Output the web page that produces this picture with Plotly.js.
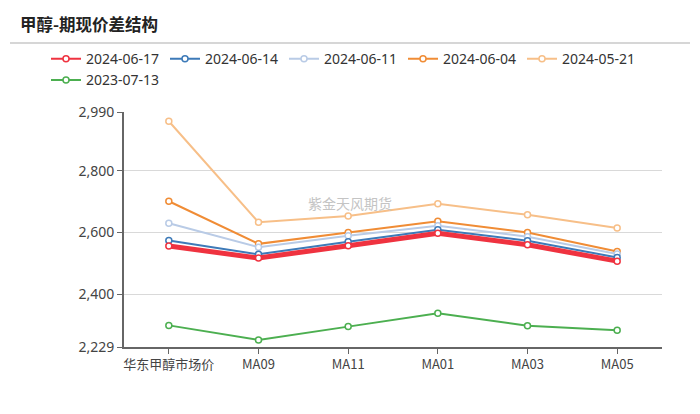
<!DOCTYPE html>
<html><head><meta charset="utf-8">
<script src="https://cdn.plot.ly/plotly-3.0.1.min.js"></script>
<style>html,body{margin:0;padding:0;background:#fff}#chart{width:700px;height:414px}</style>
</head><body><div id="chart"></div>
<script>
const categories = ['华东甲醇市场价','MA09','MA11','MA01','MA03','MA05'];
const seriesNames = ['2024-06-17','2024-06-14','2024-06-11','2024-06-04','2024-05-21','2023-07-13'];
const s20240617 = [2556, 2517, 2557, 2597, 2560, 2507];
const s20240614 = [2574, 2529, 2570, 2609, 2573, 2519];
const s20240611 = [2630, 2552, 2589, 2622, 2586, 2530];
const s20240604 = [2701, 2563, 2600, 2636, 2600, 2538];
const s20240521 = [2960, 2633, 2653, 2693, 2657, 2614];
const s20230713 = [2299, 2252, 2295, 2338, 2298, 2283];
const yTicks = [2229, 2400, 2600, 2800, 2990];
const yTickText = ['2,229','2,400','2,600','2,800','2,990'];

const seriesValues = [s20240617, s20240614, s20240611, s20240604, s20240521, s20230713];
const colors = ['#ef3340','#3d7ab8','#b9cbe6','#f08c35','#f7bf88','#4caf50'];
const widths = [5, 2, 2, 2, 2, 2];

const traces = [];
for (let i = seriesNames.length - 1; i >= 0; i--) {
  if (widths[i] > 2) {
    traces.push({
      type: 'scatter', mode: 'lines', name: seriesNames[i], showlegend: false,
      x: categories, y: seriesValues[i],
      line: {color: colors[i], width: widths[i]}, hoverinfo: 'skip'
    });
  }
  traces.push({
    type: 'scatter', mode: 'lines+markers', name: seriesNames[i],
    x: categories, y: seriesValues[i],
    line: {color: colors[i], width: 2},
    marker: {symbol: 'circle', size: 6, color: '#fff', line: {color: colors[i], width: 1.5}},
    hoverinfo: 'x+y+name'
  });
}

const layout = {
  width: 700, height: 414,
  margin: {l: 124, r: 38, t: 112, b: 67},
  paper_bgcolor: '#fff', plot_bgcolor: '#fff',
  font: {family: '"Noto Sans CJK SC", "Noto Sans", sans-serif', color: '#444', size: 13},
  title: {text: '<b>甲醇-期现价差结构</b>', x: 20/700, xanchor: 'left', y: 1 - 25/414, yanchor: 'middle',
          font: {size: 16.5, color: '#222', family: '"Noto Sans CJK SC", sans-serif'}},
  showlegend: true,
  legend: {orientation: 'h', x: (46-124)/538, xanchor: 'left', y: 1.293, yanchor: 'top',
           bgcolor: 'rgba(0,0,0,0)',
           traceorder: 'reversed', entrywidth: 74, entrywidthmode: 'pixels',
           font: {size: 14, color: '#333', family: '"Noto Sans", "Open Sans", sans-serif'},
           itemclick: false, tracegroupgap: 0},
  xaxis: {type: 'category', range: [-0.5, 5.5], showgrid: false, zeroline: false,
          showline: true, linecolor: '#666', linewidth: 1.5, ticks: 'outside', ticklen: 5,
          tickcolor: '#666', tickfont: {size: 13, color: '#444'}, fixedrange: true},
  yaxis: {range: [2229, 2990], tickmode: 'array', tickvals: yTicks, ticktext: yTickText,
          showgrid: true, gridcolor: '#d9d9d9', gridwidth: 1, zeroline: false,
          showline: true, linecolor: '#666', linewidth: 2, ticks: 'outside', ticklen: 5,
          tickcolor: '#666', tickfont: {size: 14, color: '#444', family: '"Noto Sans", "Open Sans", sans-serif'}, fixedrange: true},
  shapes: [{type: 'line', xref: 'paper', yref: 'paper', x0: (10-124)/538, x1: (690-124)/538,
            y0: 1 + (112-43)/235, y1: 1 + (112-43)/235, line: {color: '#c8c8c8', width: 1.5}}],
  annotations: [{text: '紫金天风期货', xref: 'paper', yref: 'paper', x: (350-124)/538, y: 1 - (203-112)/235,
                 showarrow: false, font: {size: 14, color: '#c4c4c4'}}]
};
Plotly.newPlot('chart', traces, layout, {displayModeBar: false, staticPlot: true});
</script></body></html>
